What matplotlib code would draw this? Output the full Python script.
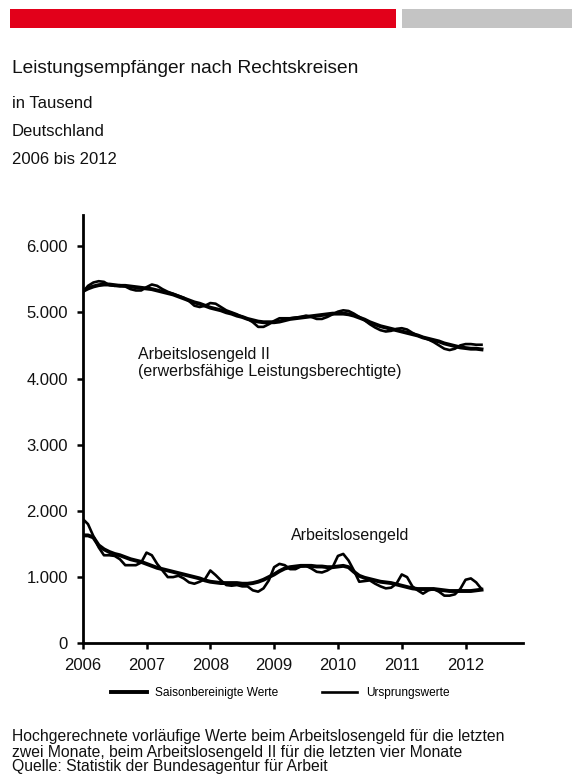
import matplotlib
matplotlib.use('Agg')
import matplotlib.pyplot as plt
import numpy as np
from matplotlib.patches import Rectangle

plt.rcParams['font.family'] = ['Liberation Sans', 'DejaVu Sans']

# monthly values Jan 2006 - Apr 2012, in thousand
alg2_orig = [5.30, 5.40, 5.45, 5.47, 5.46, 5.41, 5.40, 5.41, 5.39, 5.35, 5.33, 5.33,
             5.38, 5.42, 5.40, 5.35, 5.31, 5.28, 5.25, 5.22, 5.17, 5.10, 5.08, 5.10,
             5.14, 5.13, 5.08, 5.03, 5.00, 4.97, 4.93, 4.90, 4.85, 4.78, 4.78, 4.82,
             4.87, 4.91, 4.91, 4.91, 4.92, 4.93, 4.95, 4.93, 4.90, 4.90, 4.93, 4.97,
             5.01, 5.03, 5.02, 4.98, 4.93, 4.88, 4.82, 4.77, 4.73, 4.71, 4.72, 4.75,
             4.76, 4.74, 4.69, 4.65, 4.62, 4.59, 4.55, 4.50, 4.45, 4.43, 4.45, 4.50,
             4.52, 4.52, 4.51, 4.51]
alg2_sa = [5.32, 5.36, 5.39, 5.41, 5.42, 5.42, 5.41, 5.40, 5.40, 5.39, 5.38, 5.37,
           5.36, 5.35, 5.33, 5.31, 5.29, 5.27, 5.24, 5.21, 5.18, 5.15, 5.13, 5.10,
           5.07, 5.05, 5.03, 5.00, 4.98, 4.95, 4.93, 4.90, 4.88, 4.86, 4.85, 4.85,
           4.85, 4.86, 4.88, 4.90, 4.91, 4.92, 4.93, 4.94, 4.95, 4.96, 4.97, 4.98,
           4.98, 4.98, 4.97, 4.95, 4.92, 4.89, 4.85, 4.82, 4.79, 4.77, 4.75, 4.73,
           4.71, 4.69, 4.67, 4.65, 4.62, 4.60, 4.58, 4.56, 4.53, 4.51, 4.49, 4.47,
           4.46, 4.45, 4.45, 4.44]
alg_orig = [1.88, 1.80, 1.62, 1.45, 1.33, 1.33, 1.32, 1.27, 1.18, 1.18, 1.18, 1.22,
            1.37, 1.33, 1.20, 1.10, 1.00, 1.00, 1.02, 0.98, 0.92, 0.90, 0.93, 0.97,
            1.10, 1.03, 0.95, 0.88, 0.87, 0.88, 0.86, 0.86, 0.80, 0.78, 0.83, 0.95,
            1.15, 1.20, 1.18, 1.12, 1.12, 1.16, 1.17, 1.13, 1.08, 1.07, 1.10, 1.15,
            1.32, 1.35, 1.25, 1.10, 0.93, 0.94, 0.95, 0.90, 0.86, 0.83, 0.84, 0.90,
            1.04, 1.00, 0.86, 0.80, 0.75, 0.80, 0.82, 0.78, 0.72, 0.72, 0.74, 0.82,
            0.96, 0.98, 0.92, 0.82]
alg_sa = [1.63, 1.63, 1.60, 1.48, 1.42, 1.38, 1.35, 1.33, 1.30, 1.27, 1.25, 1.23,
          1.20, 1.17, 1.14, 1.12, 1.10, 1.08, 1.06, 1.04, 1.02, 1.00, 0.98, 0.95,
          0.93, 0.92, 0.91, 0.91, 0.91, 0.91, 0.90, 0.90, 0.91, 0.93, 0.96, 1.00,
          1.04, 1.09, 1.13, 1.15, 1.16, 1.17, 1.17, 1.17, 1.16, 1.16, 1.15, 1.15,
          1.16, 1.17, 1.15, 1.08, 1.02, 0.99, 0.97, 0.95, 0.93, 0.92, 0.91, 0.89,
          0.87, 0.85, 0.83, 0.82, 0.82, 0.82, 0.82, 0.81, 0.80, 0.79, 0.79, 0.79,
          0.79, 0.79, 0.80, 0.81]

years = [2006, 2007, 2008, 2009, 2010, 2011, 2012]
yticks = [0, 1000, 2000, 3000, 4000, 5000, 6000]
ylabels = ['0', '1.000', '2.000', '3.000', '4.000', '5.000', '6.000']

footnote = ['Hochgerechnete vorläufige Werte beim Arbeitslosengeld für die letzten',
            'zwei Monate, beim Arbeitslosengeld II für die letzten vier Monate',
            'Quelle: Statistik der Bundesagentur für Arbeit']

x = 2006 + np.arange(len(alg_orig)) / 12.0

fig = plt.figure(figsize=(5.72, 7.8), dpi=100)

# header bars
fig.add_artist(Rectangle((10 / 572, 1 - 28 / 780), 386 / 572, 19 / 780,
                         transform=fig.transFigure, color='#e2001a', lw=0))
fig.add_artist(Rectangle((402 / 572, 1 - 28 / 780), 170 / 572, 19 / 780,
                         transform=fig.transFigure, color='#c4c4c4', lw=0))

fig.text(12 / 572, 1 - 73 / 780, 'Leistungsempfänger nach Rechtskreisen', fontsize=13.8, color='#111111')
fig.text(12 / 572, 1 - 108.5 / 780, 'in Tausend', fontsize=12, color='#111111')
fig.text(12 / 572, 1 - 136.5 / 780, 'Deutschland', fontsize=12, color='#111111')
fig.text(12 / 572, 1 - 164 / 780, '2006 bis 2012', fontsize=12, color='#111111')

ax = fig.add_axes([82.7 / 572, 136.7 / 780, 440.6 / 572, 428.3 / 780])

l1, = ax.plot(x, np.array(alg2_sa) * 1000, color='black', lw=2.8, solid_joinstyle='round')
l2, = ax.plot(x, np.array(alg2_orig) * 1000, color='black', lw=1.9, solid_joinstyle='round')
ax.plot(x, np.array(alg_sa) * 1000, color='black', lw=2.8, solid_joinstyle='round')
ax.plot(x, np.array(alg_orig) * 1000, color='black', lw=1.9, solid_joinstyle='round')

ax.set_xlim(2006, 2012.905)
ax.set_ylim(0, 6470)
ax.set_xticks(years)
ax.set_xticklabels([str(y) for y in years], fontsize=12)
ax.set_yticks(yticks)
ax.set_yticklabels(ylabels, fontsize=12)
ax.tick_params(axis='both', width=1.8, length=4.5, color='black', labelcolor='#111111')
ax.tick_params(axis='y', pad=6)
ax.tick_params(axis='x', pad=6)
for s in ['top', 'right']:
    ax.spines[s].set_visible(False)
for s in ['left', 'bottom']:
    ax.spines[s].set_linewidth(2)

ax.text(2006.87, 3990, 'Arbeitslosengeld II\n(erwerbsfähige Leistungsberechtigte)',
        fontsize=11.5, va='bottom', ha='left', linespacing=1.15, color='#111111')
ax.text(2009.27, 1520, 'Arbeitslosengeld', fontsize=11.5, va='bottom', ha='left', color='#111111')

fig.legend([l1, l2], ['Saisonbereinigte Werte', 'Ursprungswerte'], loc='center',
           bbox_to_anchor=(0.49, 1 - 693 / 780), ncol=2, frameon=False, fontsize=8.6,
           handlelength=3.0, handletextpad=0.7, columnspacing=3.6)

for i, line in enumerate(footnote):
    fig.text(12 / 572, 1 - (741.5 + 15 * i) / 780, line, fontsize=11.3,
             va='baseline', color='#111111')

fig.savefig('out.png', dpi=100)
